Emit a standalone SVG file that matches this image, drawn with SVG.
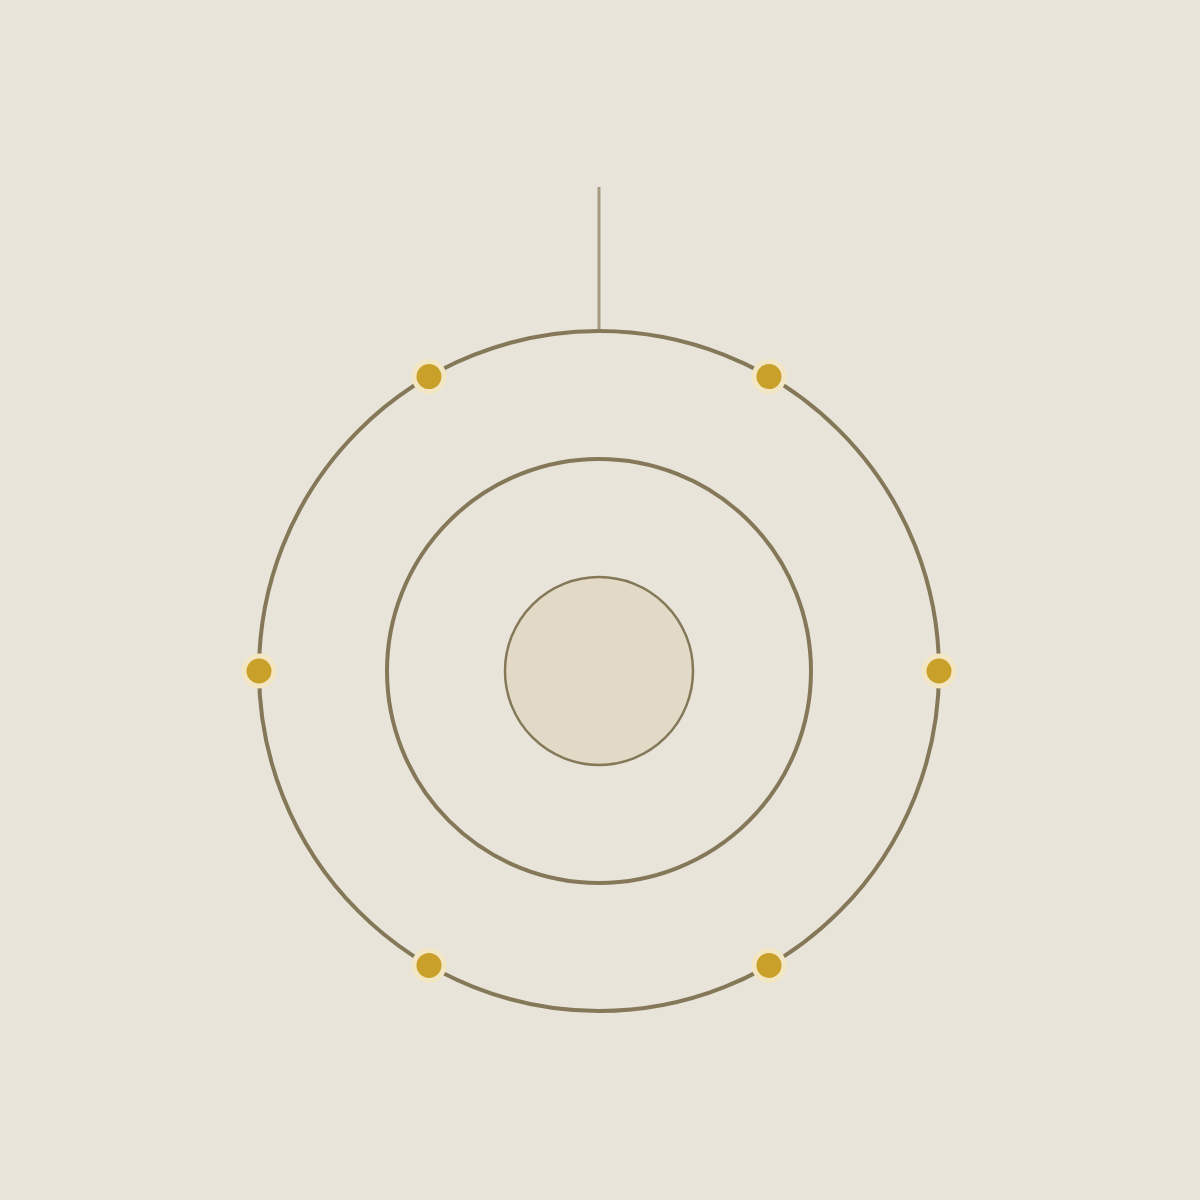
<svg xmlns="http://www.w3.org/2000/svg" width="1200" height="1200" viewBox="0 0 1200 1200">
<defs>
<radialGradient id="glow" cx="599" cy="671" r="340" gradientUnits="userSpaceOnUse">
<stop offset="0" stop-color="#eee8da"/>
<stop offset="0.6" stop-color="#ebe5d9"/>
<stop offset="1" stop-color="#e9e4d9"/>
</radialGradient>
<style>
.ring{fill:none;stroke:#857858;stroke-width:4}
.dot{fill:#c9a12a;stroke:#f3e6c2;stroke-width:5}
</style>
</defs>
<rect width="1200" height="1200" fill="#e8e4da"/>
<g id="connectors">
<line x1="599" y1="187" x2="599" y2="331" stroke="#a89a7e" stroke-width="3"/>
</g>
<g id="outer-ring">
<circle cx="599" cy="671" r="340" fill="url(#glow)" class="ring"/>
</g>
<g id="middle-ring">
<circle cx="599" cy="671" r="212" class="ring"/>
</g>
<g id="core">
<circle cx="599" cy="671" r="94" fill="#e2d9c6" stroke="#857858" stroke-width="2.5"/>
</g>
<g id="dot-e"><circle cx="939" cy="671" r="15" class="dot"/></g>
<g id="dot-ne"><circle cx="769" cy="376.6" r="15" class="dot"/></g>
<g id="dot-nw"><circle cx="429" cy="376.6" r="15" class="dot"/></g>
<g id="dot-w"><circle cx="259" cy="671" r="15" class="dot"/></g>
<g id="dot-sw"><circle cx="429" cy="965.4" r="15" class="dot"/></g>
<g id="dot-se"><circle cx="769" cy="965.4" r="15" class="dot"/></g>
</svg>
